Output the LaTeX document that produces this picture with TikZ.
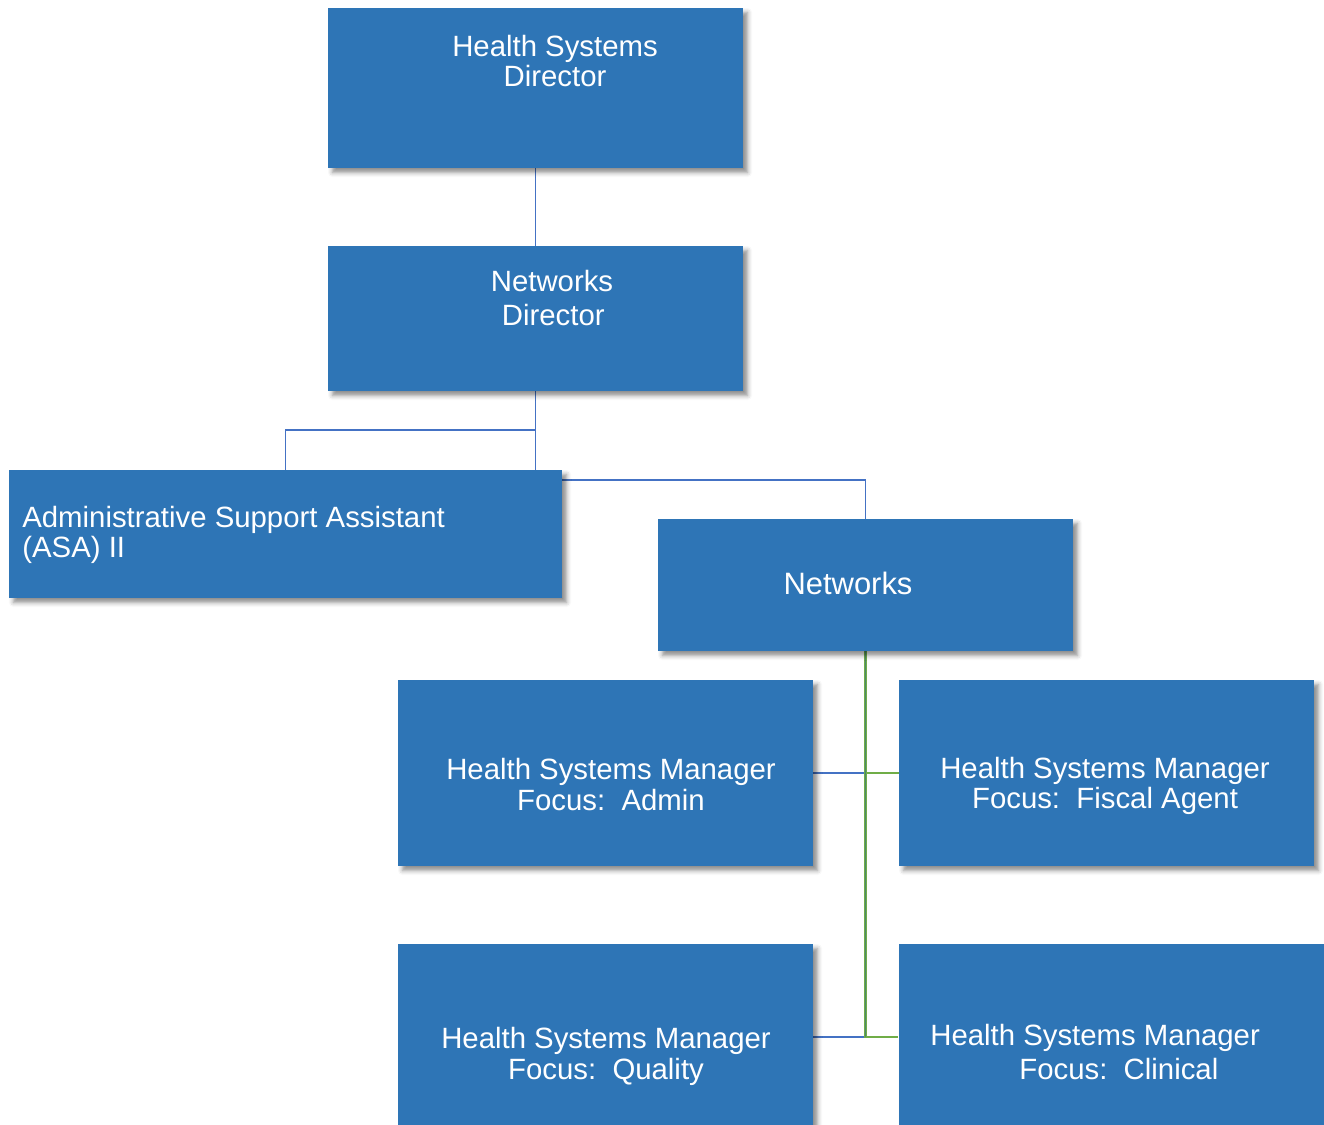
\documentclass[tikz,border=0pt]{standalone}
\usepackage{fontspec}
\setmainfont{Liberation Sans}
\usetikzlibrary{positioning,shadows.blur,backgrounds}

\definecolor{boxblue}{HTML}{2E75B6}
\definecolor{lineblue}{HTML}{4472C4}
\definecolor{linegreen}{HTML}{70AD47}
\definecolor{linedark}{HTML}{4E8A6A}

\tikzset{
  orgbox/.style={rectangle, fill=boxblue, minimum width=83mm, inner sep=0pt,
    blur shadow={shadow xshift=0.9mm, shadow yshift=-0.9mm, shadow blur radius=0.9mm, shadow opacity=45}},
  boxtext/.style={text=white, font=\fontsize{16.7}{17.5}\selectfont, inner sep=0pt},
  bluelink/.style={lineblue, line width=1pt},
  greenlink/.style={linegreen, line width=1.2pt}
}

\begin{document}
\begin{tikzpicture}[x=0.2mm, y=-0.2mm]
\useasboundingbox (0,0) rectangle (1324,1124);

% boxes
\node[orgbox, minimum height=32mm] (hsdir) at (535.5, 88) {};
\node[orgbox, minimum height=29mm] (netdir) at (535.5, 318.5) {};
\node[orgbox, minimum width=110.6mm, minimum height=25.6mm] (asa) at (285.5, 534) {};
\node[orgbox, minimum height=26.4mm] (networks) at (865.5, 585) {};
\node[orgbox, minimum height=37.2mm] (hsmadmin) at (605.5, 773) {};
\node[orgbox, minimum height=37.2mm] (hsmfiscal) at (1106.5, 773) {};
\node[orgbox, minimum height=37.2mm] (hsmquality) at (605.5, 1037) {};
\node[orgbox, minimum width=86.2mm, minimum height=37.2mm] (hsmclinical) at (1114, 1037) {};

% texts
\node[boxtext, align=center] (hsdir-text) at (555, 61) {Health Systems\\Director};
\node[boxtext, align=center, font=\fontsize{16.7}{19.5}\selectfont] (netdir-text) at (552, 298) {Networks\\\hspace{0.5mm}Director};
\node[boxtext, align=left, anchor=west] (asa-text) at (22, 535) {Administrative Support Assistant\\(ASA) II};
\node[boxtext, font=\fontsize{17.6}{18}\selectfont] (networks-text) at (848, 583) {Networks};
\node[boxtext, align=center] (hsmadmin-text) at (611, 784.5) {Health Systems Manager\\Focus:\ \ Admin};
\node[boxtext, align=center] (hsmfiscal-text) at (1105, 786) {Health Systems Manager\\Focus:\ \ Fiscal Agent};
\node[boxtext, align=center] (hsmquality-text) at (606, 1056.5) {Health Systems Manager\\Focus:\ \ Quality};
\node[boxtext, align=left, anchor=west, font=\fontsize{16.7}{19.5}\selectfont] (hsmclinical-text) at (930, 1052) {Health Systems Manager\\\hspace{17.8mm}Focus:\ \ Clinical};

% connectors
\begin{pgfonlayer}{background}
\draw[bluelink] (hsdir) -- (netdir);
\draw[bluelink] (netdir.south) -- ++(0,39) -| (asa.north);
\draw[bluelink] (netdir.south) -- ++(0,89) -| (networks.north);
\draw[bluelink] (networks.south) |- (hsmadmin.east);
\draw[bluelink] (networks.south) |- (hsmquality.east);
\draw[greenlink] (networks.south) |- (hsmfiscal.west);
\draw[greenlink] (networks.south) |- (hsmclinical.west);
\draw[linedark, line width=0.6pt] (networks.south) -- (networks.south |- hsmclinical.west);
\end{pgfonlayer}

\end{tikzpicture}
\end{document}
